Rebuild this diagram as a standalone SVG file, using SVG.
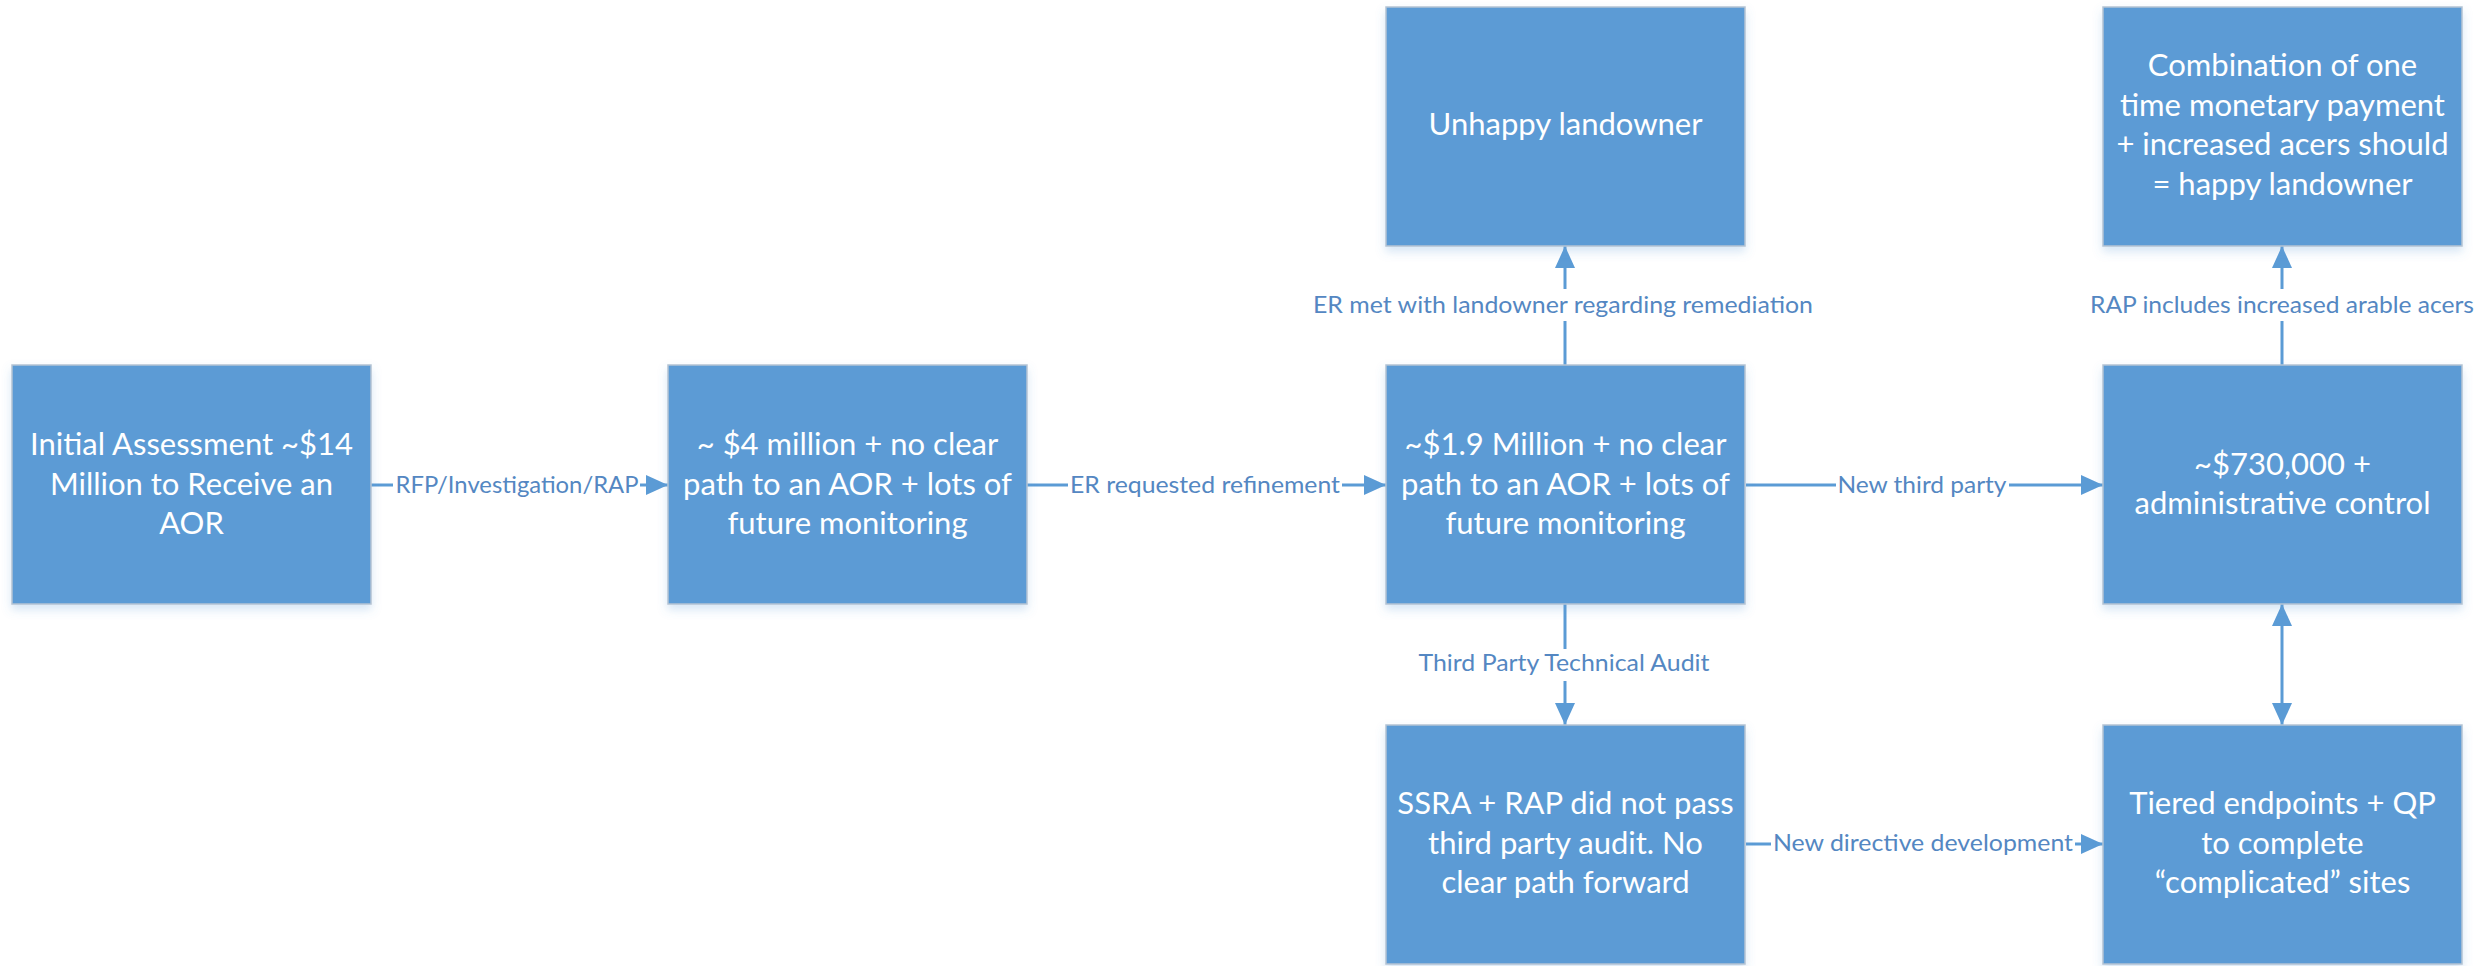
<svg xmlns="http://www.w3.org/2000/svg" width="2483" height="966" viewBox="0 0 2483 966">
<style>
.box{fill:#5B9BD5;stroke:#B4C3D3;stroke-width:1.5;filter:url(#sh)}
.nt{font-family:Lato,"Open Sans","Liberation Sans",sans-serif;font-size:31px;fill:#FFFFFF;text-anchor:middle}
.el{font-family:Lato,"Open Sans","Liberation Sans",sans-serif;font-size:23px;fill:#5487C2;text-anchor:middle}
.ln{stroke:#5B9BD5;stroke-width:3;fill:none}
.bg{fill:#FFFFFF}
</style>
<defs>
<filter id="sh" x="-10%" y="-10%" width="120%" height="125%">
<feDropShadow dx="0" dy="5" stdDeviation="5" flood-color="#5B9BD5" flood-opacity="0.25"/>
</filter>
<marker id="ah" markerUnits="userSpaceOnUse" markerWidth="22" markerHeight="20" refX="22" refY="10" orient="auto-start-reverse">
<path d="M0,0 L22,10 L0,20 z" fill="#5B9BD5"/>
</marker>
</defs>
<rect width="2483" height="966" fill="#FFFFFF"/>

<g id="connectors">
<line class="ln" x1="371" y1="485" x2="668" y2="485" marker-end="url(#ah)"/>
<rect class="bg" x="393" y="471" width="247" height="30"/>
<text class="el" x="517" y="493" textLength="243" lengthAdjust="spacingAndGlyphs">RFP/Investigation/RAP</text>

<line class="ln" x1="1027" y1="485" x2="1386" y2="485" marker-end="url(#ah)"/>
<rect class="bg" x="1068" y="471" width="274" height="30"/>
<text class="el" x="1205" y="493" textLength="270" lengthAdjust="spacingAndGlyphs">ER requested refinement</text>

<line class="ln" x1="1746" y1="485" x2="2103" y2="485" marker-end="url(#ah)"/>
<rect class="bg" x="1836" y="471" width="173" height="30"/>
<text class="el" x="1922" y="493" textLength="169" lengthAdjust="spacingAndGlyphs">New third party</text>

<line class="ln" x1="1565" y1="365" x2="1565" y2="246" marker-end="url(#ah)"/>
<rect class="bg" x="1311" y="289" width="504" height="32"/>
<text class="el" x="1563" y="313" textLength="500" lengthAdjust="spacingAndGlyphs">ER met with landowner regarding remediation</text>

<line class="ln" x1="1565" y1="604" x2="1565" y2="725" marker-end="url(#ah)"/>
<rect class="bg" x="1416" y="649" width="296" height="32"/>
<text class="el" x="1564" y="671" textLength="291" lengthAdjust="spacingAndGlyphs">Third Party Technical Audit</text>

<line class="ln" x1="1746" y1="844" x2="2103" y2="844" marker-end="url(#ah)"/>
<rect class="bg" x="1771" y="829" width="304" height="30"/>
<text class="el" x="1923" y="851" textLength="300" lengthAdjust="spacingAndGlyphs">New directive development</text>

<line class="ln" x1="2282" y1="365" x2="2282" y2="246" marker-end="url(#ah)"/>
<rect class="bg" x="2088" y="289" width="390" height="32"/>
<text class="el" x="2282" y="313" textLength="384" lengthAdjust="spacingAndGlyphs">RAP includes increased arable acers</text>

<line class="ln" x1="2282" y1="604" x2="2282" y2="725" marker-start="url(#ah)" marker-end="url(#ah)"/>
</g>

<g id="node-initial">
<rect class="box" x="12" y="365" width="359" height="239"/>
<text class="nt" x="191.5" y="455">Initial Assessment ~$14</text>
<text class="nt" x="191.5" y="495">Million to Receive an</text>
<text class="nt" x="191.5" y="534">AOR</text>
</g>

<g id="node-4million">
<rect class="box" x="668" y="365" width="359" height="239"/>
<text class="nt" x="847.5" y="455">~ $4 million + no clear</text>
<text class="nt" x="847.5" y="495">path to an AOR + lots of</text>
<text class="nt" x="847.5" y="534">future monitoring</text>
</g>

<g id="node-1-9million">
<rect class="box" x="1386" y="365" width="359" height="239"/>
<text class="nt" x="1565.5" y="455">~$1.9 Million + no clear</text>
<text class="nt" x="1565.5" y="495">path to an AOR + lots of</text>
<text class="nt" x="1565.5" y="534">future monitoring</text>
</g>

<g id="node-unhappy">
<rect class="box" x="1386" y="7" width="359" height="239"/>
<text class="nt" x="1565.5" y="135">Unhappy landowner</text>
</g>

<g id="node-ssra">
<rect class="box" x="1386" y="725" width="359" height="239"/>
<text class="nt" x="1565.5" y="814">SSRA + RAP did not pass</text>
<text class="nt" x="1565.5" y="854">third party audit. No</text>
<text class="nt" x="1565.5" y="893">clear path forward</text>
</g>

<g id="node-730k">
<rect class="box" x="2103" y="365" width="359" height="239"/>
<text class="nt" x="2282.5" y="475">~$730,000 +</text>
<text class="nt" x="2282.5" y="514">administrative control</text>
</g>

<g id="node-combination">
<rect class="box" x="2103" y="7" width="359" height="239"/>
<text class="nt" x="2282.5" y="76">Combination of one</text>
<text class="nt" x="2282.5" y="116">time monetary payment</text>
<text class="nt" x="2282.5" y="155">+ increased acers should</text>
<text class="nt" x="2282.5" y="195">= happy landowner</text>
</g>

<g id="node-tiered">
<rect class="box" x="2103" y="725" width="359" height="239"/>
<text class="nt" x="2282.5" y="814">Tiered endpoints + QP</text>
<text class="nt" x="2282.5" y="854">to complete</text>
<text class="nt" x="2282.5" y="893">“complicated” sites</text>
</g>
</svg>
